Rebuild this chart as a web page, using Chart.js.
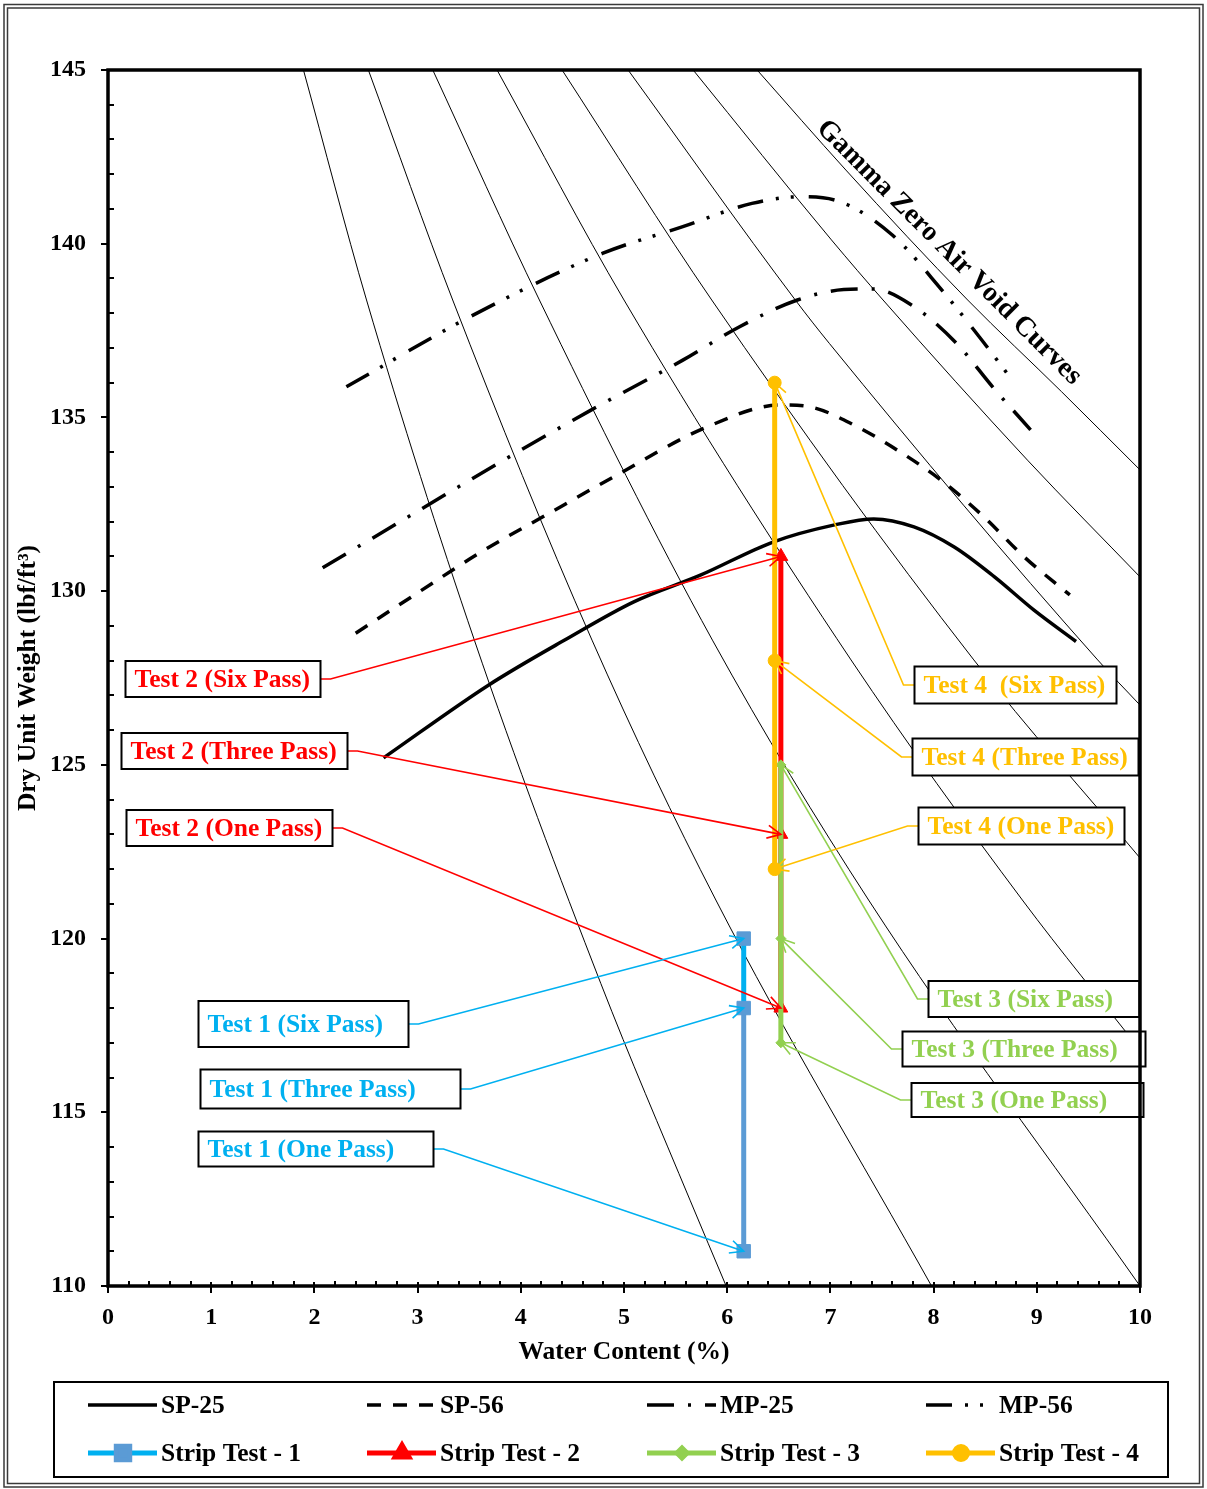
<!DOCTYPE html>
<html>
<head>
<meta charset="utf-8">
<script src="https://cdn.jsdelivr.net/npm/chart.js@4.4.1/dist/chart.umd.min.js"></script>
<style>
  html, body { margin: 0; padding: 0; background: #fff; }
</style>
</head>
<body>
<canvas id="chart" width="1207" height="1489"></canvas>
<script>
const FONT = '"Liberation Serif", "Times New Roman", serif';

// compaction curves: [water content %, dry unit weight lbf/ft3]
const sp25 = [[2.67,125.2],[3.69,127.3],[4.43,128.6],[5.1,129.7],[5.74,130.46],[6.45,131.42],[7.03,131.9],[7.42,132.08],[7.81,131.85],[8.2,131.27],[8.59,130.41],[8.97,129.46],[9.38,128.55]];
const sp56 = [[2.4,128.79],[3.0,129.95],[3.6,131.1],[4.25,132.2],[4.9,133.29],[5.8,134.72],[6.52,135.36],[6.81,135.3],[7.23,134.78],[7.69,133.98],[8.07,133.2],[8.49,132.13],[8.88,130.98],[9.32,129.89]];
const mp25 = [[2.08,130.67],[3.0,132.3],[3.85,133.8],[4.68,135.21],[5.57,136.65],[6.12,137.61],[6.68,138.38],[7.13,138.68],[7.41,138.7],[7.8,138.21],[8.22,137.14],[8.58,135.85],[8.94,134.64]];
const mp56 = [[2.31,135.88],[3.51,137.9],[4.79,139.72],[5.57,140.49],[6.24,141.16],[6.7,141.35],[7.05,141.25],[7.6,140.25],[8.07,138.7],[8.5,137.1],[8.78,136.0]];

// zero air void curves
const zav1 = [[1.894,145],[2.505,138.38],[3.55,128.59],[4.775,118.71],[5.64,112.47],[5.99,110]];
const zav2 = [[2.523,145],[3.34,138.38],[4.69,128.59],[5.89,121.11],[7.98,110]];
const zav3 = [[3.147,145],[4.18,138.38],[5.857,128.59],[7.37,121.11],[10,110]];
const zav4 = [[3.77,145],[5.0,138.38],[7.2,128.02],[8.86,121.11],[10,116.8]];
const zav5 = [[4.4,145],[5.85,138.38],[8.39,128.02],[10,122.32]];
const zav6 = [[5.04,145],[6.66,138.38],[6.99,137.13],[9.59,128.02],[10,126.72]];
const zav7 = [[5.67,145],[7.01,140.11],[7.51,138.38],[8.91,133.77],[10,130.41]];
const zav8 = [[6.29,145],[7.15,142.12],[8.33,138.38],[9.24,135.74],[10,133.49]];

// strip tests: one, three and six passes
const passNames = ['One Pass', 'Three Pass', 'Six Pass'];
const strip1Water = 6.16;
const strip1Weight = [111, 118, 120];
const strip2Water = 6.52;
const strip2Weight = [118, 123, 131];
const strip3Water = 6.52;
const strip3Weight = [117, 120, 125];
const strip4Water = 6.46;
const strip4Weight = [122, 128, 136];

const stripColors = { 1: '#00B0F0', 2: '#FF0000', 3: '#92D050', 4: '#FFC000' };
const strips = {
  1: { water: strip1Water, weight: strip1Weight },
  2: { water: strip2Water, weight: strip2Weight },
  3: { water: strip3Water, weight: strip3Weight },
  4: { water: strip4Water, weight: strip4Weight }
};

// label boxes: left edge and middle in axis units, size in px
const callouts = [
  { strip: 2, pass: 2, text: 'Test 2 (Six Pass)',   side: 'left',  at: [0.168, 127.47], w: 195, h: 36 },
  { strip: 2, pass: 1, text: 'Test 2 (Three Pass)', side: 'left',  at: [0.13, 125.4],   w: 226, h: 36 },
  { strip: 2, pass: 0, text: 'Test 2 (One Pass)',   side: 'left',  at: [0.177, 123.18], w: 206, h: 36 },
  { strip: 1, pass: 2, text: 'Test 1 (Six Pass)',   side: 'left',  at: [0.876, 117.54], w: 210, h: 46 },
  { strip: 1, pass: 1, text: 'Test 1 (Three Pass)', side: 'left',  at: [0.895, 115.68], w: 260, h: 39 },
  { strip: 1, pass: 0, text: 'Test 1 (One Pass)',   side: 'left',  at: [0.876, 113.95], w: 235, h: 35 },
  { strip: 4, pass: 2, text: 'Test 4  (Six Pass)',  side: 'right', at: [7.81, 127.3],   w: 202, h: 37 },
  { strip: 4, pass: 1, text: 'Test 4 (Three Pass)', side: 'right', at: [7.79, 125.22],  w: 226, h: 37 },
  { strip: 4, pass: 0, text: 'Test 4 (One Pass)',   side: 'right', at: [7.845, 123.24], w: 206, h: 37 },
  { strip: 3, pass: 2, text: 'Test 3 (Six Pass)',   side: 'right', at: [7.946, 118.26], w: 211, h: 36 },
  { strip: 3, pass: 1, text: 'Test 3 (Three Pass)', side: 'right', at: [7.695, 116.83], w: 243, h: 35 },
  { strip: 3, pass: 0, text: 'Test 3 (One Pass)',   side: 'right', at: [7.782, 115.35], w: 232, h: 34 }
];

const toXY = arr => arr.map(p => ({ x: p[0], y: p[1] }));
const stripXY = s => strips[s].weight.map(v => ({ x: strips[s].water, y: v }));

function zavSet(pts) {
  return {
    data: toXY(pts), borderColor: '#000', borderWidth: 1, pointRadius: 0,
    cubicInterpolationMode: 'monotone', tension: 0.4, order: 50
  };
}

function curveSet(label, pts, dash) {
  return {
    label, data: toXY(pts), borderColor: '#000', borderWidth: 3.5, borderDash: dash,
    pointRadius: 0, cubicInterpolationMode: 'monotone', tension: 0.4, order: 40
  };
}

function stripSet(n, style, radius, fill, order) {
  return {
    label: 'Strip Test - ' + n, data: stripXY(n), borderColor: stripColors[n], borderWidth: 5,
    backgroundColor: fill, pointBackgroundColor: fill, pointBorderColor: fill,
    pointStyle: style, pointRadius: radius, pointBorderWidth: 1, tension: 0, order
  };
}

const datasets = [
  zavSet(zav1), zavSet(zav2), zavSet(zav3), zavSet(zav4),
  zavSet(zav5), zavSet(zav6), zavSet(zav7), zavSet(zav8),
  curveSet('SP-25', sp25, []),
  curveSet('SP-56', sp56, [14, 12]),
  curveSet('MP-25', mp25, [27, 14, 3, 14]),
  curveSet('MP-56', mp56, [26, 13, 3, 12, 3, 15]),
  stripSet(1, 'rect', 9.5, '#5B9BD5', 1),
  stripSet(2, 'triangle', 8, '#FF0000', 4),
  stripSet(3, 'rectRot', 5, '#92D050', 3),
  stripSet(4, 'circle', 6.5, '#FFC000', 2)
];
// lower part of strip 1 is drawn in the marker blue
datasets[12].borderColor = '#5B9BD5';
datasets[12].segment = { borderColor: c => c.p0DataIndex === 1 ? '#00B0F0' : undefined };
datasets[12].legendLine = '#00B0F0';

function arrowHead(ctx, fromX, fromY, tipX, tipY) {
  const a = Math.atan2(tipY - fromY, tipX - fromX);
  const len = 15, spread = 0.45;
  ctx.beginPath();
  ctx.moveTo(tipX - len * Math.cos(a - spread), tipY - len * Math.sin(a - spread));
  ctx.lineTo(tipX, tipY);
  ctx.lineTo(tipX - len * Math.cos(a + spread), tipY - len * Math.sin(a + spread));
  ctx.stroke();
}

function drawCallout(ctx, xs, ys, c) {
  const color = stripColors[c.strip];
  const s = strips[c.strip];
  const tipX = xs.getPixelForValue(s.water);
  const tipY = ys.getPixelForValue(s.weight[c.pass]);
  const left = Math.round(xs.getPixelForValue(c.at[0])) + 0.5;
  const cy = Math.round(ys.getPixelForValue(c.at[1]));
  const top = cy - c.h / 2;
  const edgeX = c.side === 'left' ? left + c.w : left;
  const stubX = c.side === 'left' ? edgeX + 10 : edgeX - 11;

  ctx.save();
  ctx.strokeStyle = color;
  ctx.lineWidth = 1.6;
  ctx.beginPath();
  ctx.moveTo(edgeX, cy);
  ctx.lineTo(stubX, cy);
  ctx.lineTo(tipX, tipY);
  ctx.stroke();
  arrowHead(ctx, stubX, cy, tipX, tipY);

  ctx.fillStyle = '#fff';
  ctx.fillRect(left, top, c.w, c.h);
  ctx.strokeStyle = '#000';
  ctx.lineWidth = 2;
  ctx.strokeRect(left, top, c.w, c.h);
  ctx.fillStyle = color;
  ctx.font = 'bold 25.5px ' + FONT;
  ctx.textBaseline = 'middle';
  ctx.textAlign = 'left';
  ctx.fillText(c.text, left + 9, cy + 1);
  ctx.restore();
}

const legendOrder = ['SP-25', 'SP-56', 'MP-25', 'MP-56', 'Strip Test - 1', 'Strip Test - 2', 'Strip Test - 3', 'Strip Test - 4'];

const decor = {
  id: 'decor',
  beforeDraw(chart) {
    const ctx = chart.ctx;
    ctx.save();
    ctx.fillStyle = '#fff';
    ctx.fillRect(0, 0, chart.width, chart.height);
    ctx.strokeStyle = '#3a3a3a';
    ctx.lineWidth = 1.5;
    ctx.strokeRect(4, 4.5, 1199, 1482.5);
    ctx.strokeRect(7.5, 8, 1192, 1475.5);
    ctx.restore();
  },
  afterDatasetsDraw(chart) {
    const { ctx, chartArea: a, scales: { x, y } } = chart;

    callouts.forEach(c => drawCallout(ctx, x, y, c));

    // curve family caption
    ctx.save();
    ctx.translate(x.getPixelForValue(8.15), y.getPixelForValue(139.75));
    ctx.rotate(Math.PI / 4);
    ctx.font = 'bold 28px ' + FONT;
    ctx.fillStyle = '#000';
    ctx.textAlign = 'center';
    ctx.textBaseline = 'middle';
    ctx.fillText('Gamma Zero Air Void Curves', 0, 0);
    ctx.restore();

    // plot frame and tick marks
    ctx.save();
    ctx.strokeStyle = '#000';
    ctx.lineWidth = 2;
    for (let v = 110; v <= 145; v += 1) {
      const py = Math.round(y.getPixelForValue(v));
      ctx.beginPath();
      if (v % 5 === 0) { ctx.moveTo(a.left - 7, py); ctx.lineTo(a.left, py); }
      else { ctx.moveTo(a.left, py); ctx.lineTo(a.left + 6, py); }
      ctx.stroke();
    }
    for (let i = 0; i <= 50; i++) {
      const px = Math.round(x.getPixelForValue(i / 5));
      ctx.beginPath();
      if (i % 5 === 0) { ctx.moveTo(px, a.bottom - 4); ctx.lineTo(px, a.bottom + 7); }
      else { ctx.moveTo(px, a.bottom - 5); ctx.lineTo(px, a.bottom); }
      ctx.stroke();
    }
    ctx.lineWidth = 3.5;
    ctx.strokeRect(a.left, a.top, a.right - a.left, a.bottom - a.top);
    ctx.restore();
  },
  afterDraw(chart) {
    const ctx = chart.ctx;
    const cols = [88, 367, 647, 926];
    const rows = [1405, 1453];
    ctx.save();
    ctx.strokeStyle = '#000';
    ctx.lineWidth = 2;
    ctx.strokeRect(54, 1382, 1114, 95);
    legendOrder.forEach((label, i) => {
      const ds = chart.data.datasets.find(d => d.label === label);
      const sx = cols[i % 4], sy = rows[Math.floor(i / 4)];
      ctx.save();
      ctx.strokeStyle = ds.legendLine || ds.borderColor;
      ctx.lineWidth = ds.borderWidth;
      ctx.setLineDash(ds.borderDash || []);
      ctx.beginPath();
      ctx.moveTo(sx, sy);
      ctx.lineTo(sx + 69, sy);
      ctx.stroke();
      ctx.setLineDash([]);
      if (ds.pointRadius) {
        ctx.fillStyle = ds.pointBackgroundColor;
        ctx.strokeStyle = ds.pointBorderColor;
        Chart.helpers.drawPoint(ctx, { pointStyle: ds.pointStyle, radius: ds.pointRadius, borderWidth: 1, rotation: 0 }, sx + 35, sy);
      }
      ctx.fillStyle = '#000';
      ctx.font = 'bold 25.5px ' + FONT;
      ctx.textBaseline = 'middle';
      ctx.fillText(label, sx + 73, sy + 1);
      ctx.restore();
    });
    ctx.restore();
  }
};

new Chart(document.getElementById('chart'), {
  type: 'scatter',
  data: { datasets },
  plugins: [decor],
  options: {
    responsive: false,
    animation: false,
    showLine: true,
    layout: { padding: { left: 0, top: 70, right: 67, bottom: 113 } },
    plugins: { legend: { display: false }, tooltip: { enabled: false } },
    scales: {
      x: {
        type: 'linear', min: 0, max: 10,
        grid: { display: false, drawTicks: false },
        border: { display: false },
        ticks: { stepSize: 1, padding: 17, color: '#000', font: { family: FONT, size: 24, weight: 'bold' } },
        title: { display: true, text: 'Water Content (%)', color: '#000', padding: { top: 0, bottom: 8 }, font: { family: FONT, size: 25.5, weight: 'bold' } },
        afterFit(scale) { scale.height = 90; }
      },
      y: {
        type: 'linear', min: 110, max: 145,
        grid: { display: false, drawTicks: false },
        border: { display: false },
        ticks: { stepSize: 5, padding: 22, color: '#000', font: { family: FONT, size: 24, weight: 'bold' } },
        title: { display: true, text: 'Dry Unit Weight (lbf/ft³)', color: '#000', padding: { top: 13, bottom: 0 }, font: { family: FONT, size: 25.5, weight: 'bold' } },
        afterFit(scale) { scale.width = 108; }
      }
    }
  }
});
</script>
</body>
</html>
